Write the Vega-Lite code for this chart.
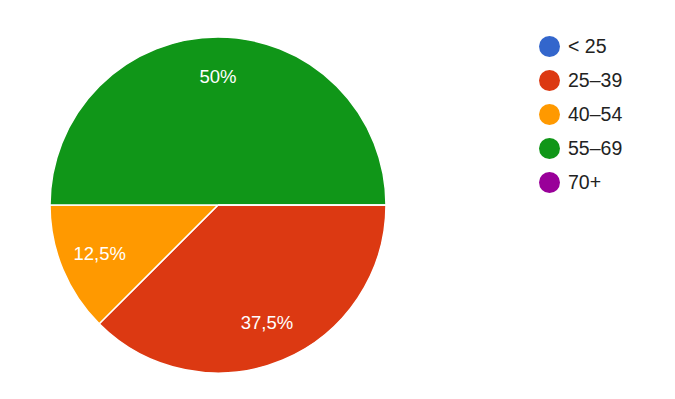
{
  "$schema": "https://vega.github.io/schema/vega-lite/v6.json",
  "width": 436,
  "height": 410,
  "padding": 0,
  "background": "white",
  "config": {"view": {"stroke": null}, "font": "Liberation Sans"},
  "data": {
    "values": [
      {"age": "< 25", "ord": 1, "value": 0, "label": ""},
      {"age": "25–39", "ord": 2, "value": 37.5, "label": "37,5%"},
      {"age": "40–54", "ord": 3, "value": 12.5, "label": "12,5%"},
      {"age": "55–69", "ord": 4, "value": 50, "label": "50%"},
      {"age": "70+", "ord": 5, "value": 0, "label": ""}
    ]
  },
  "encoding": {
    "theta": {"field": "value", "type": "quantitative", "stack": true, "scale": {"range": [1.5707963, 7.8539816]}},
    "order": {"field": "ord", "type": "quantitative"},
    "color": {
      "field": "age",
      "type": "nominal",
      "sort": ["< 25", "25–39", "40–54", "55–69", "70+"],
      "scale": {"domain": ["< 25", "25–39", "40–54", "55–69", "70+"], "range": ["#3366CC", "#DC3912", "#FF9900", "#109618", "#990099"]},
      "legend": {
        "title": null,
        "orient": "none",
        "legendX": 539,
        "legendY": 36,
        "symbolType": "circle",
        "symbolSize": 441,
        "symbolStrokeWidth": 0,
        "labelFontSize": 19.5,
        "labelColor": "#222222",
        "labelFont": "Liberation Sans",
        "labelOffset": 8,
        "rowPadding": 13
      }
    }
  },
  "layer": [
    {"mark": {"type": "arc", "outerRadius": 168, "stroke": "white", "strokeWidth": 1.5}},
    {
      "mark": {"type": "text", "radius": 128, "fontSize": 18.5, "fill": "white", "font": "Liberation Sans"},
      "encoding": {"text": {"field": "label"}, "color": {"value": "white"}}
    }
  ]
}
